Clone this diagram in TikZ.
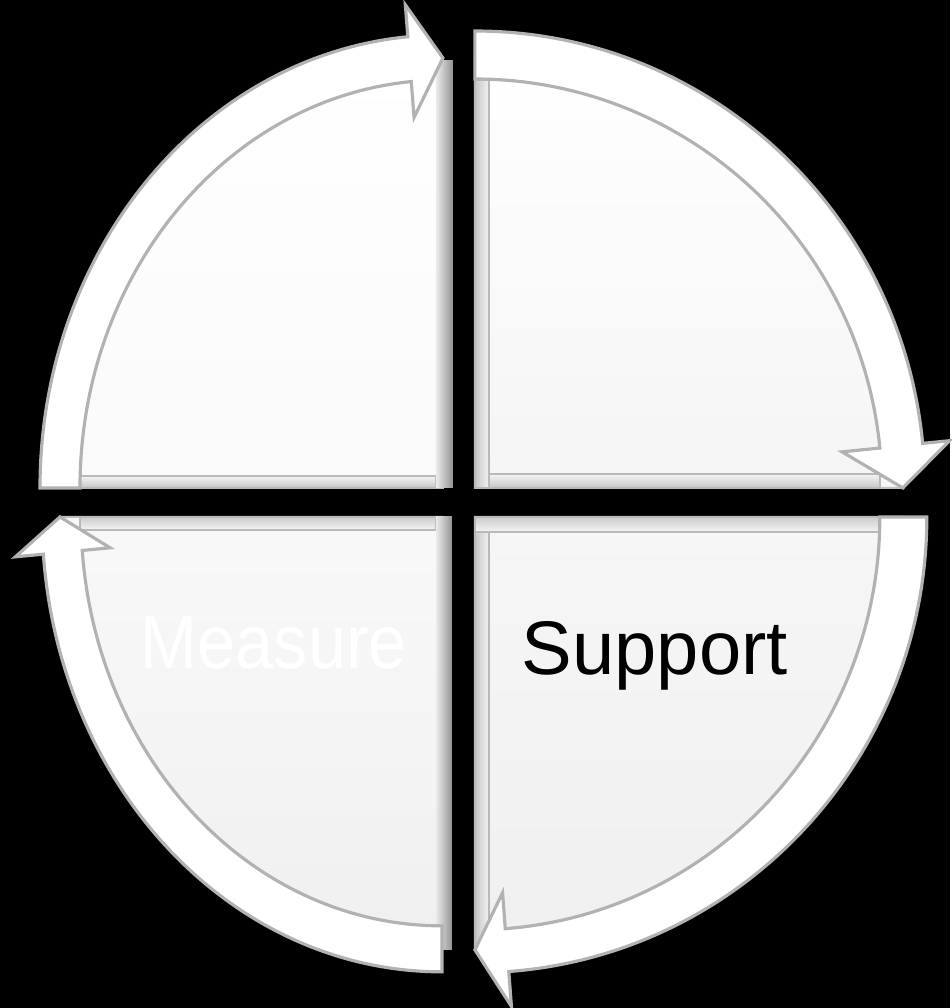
\documentclass[tikz,border=0pt]{standalone}
\usepackage{fontspec}
\setmainfont{Liberation Sans}
\usetikzlibrary{calc}

\begin{document}
\begin{tikzpicture}[x=0.01cm,y=-0.01cm,
  face/.style={draw=gray!50,line width=0.6pt},
  band/.style={fill=white,draw=gray!60,line width=0.9pt,line join=miter},
  rimh/.style={top color=gray!8,bottom color=gray!45,draw=gray!55,line width=0.5pt},
  rimv/.style={left color=gray!45,right color=gray!10,draw=gray!55,line width=0.5pt},
  side/.style={left color=gray!15,right color=gray!85},
  label/.style={font=\fontsize{21.6}{26}\selectfont,inner sep=0pt}]
  \fill[black] (0,0) rectangle (950,1008);
  \coordinate (ctl) at (443,488);
  \coordinate (ctr) at (475,488);
  \coordinate (cbl) at (442,517);
  \coordinate (cbr) at (475,517);

  % quadrant faces
  \filldraw[face,top color=white,bottom color=gray!4] (ctl) -- ($(ctl)+(180:383 and 430)$)
    arc[start angle=180,end angle=270,x radius=383,y radius=430] -- cycle;
  \filldraw[face,top color=white,bottom color=gray!8] (ctr) -- ($(ctr)+(270:428 and 433)$)
    arc[start angle=270,end angle=360,x radius=428,y radius=433] -- cycle;
  \filldraw[face,top color=gray!5,bottom color=gray!12] (cbl) -- ($(cbl)+(90:382 and 432)$)
    arc[start angle=90,end angle=180,x radius=382,y radius=432] -- cycle;
  \filldraw[face,top color=gray!7,bottom color=gray!12] (cbr) -- ($(cbr)+(0:428 and 433)$)
    arc[start angle=0,end angle=90,x radius=428,y radius=433] -- cycle;

  % bevelled edges
  \filldraw[rimh] (80,476) rectangle (436,488);
  \filldraw[rimv] (475,80) rectangle (489,488);
  \filldraw[rimh] (489,474) rectangle (880,488);
  \filldraw[rimh,top color=gray!40,bottom color=gray!8] (80,517) rectangle (436,530);
  \filldraw[rimh,top color=gray!40,bottom color=gray!8] (475,517) rectangle (880,532);
  \filldraw[rimv] (475,532) rectangle (489,945);
  \fill[side] (436,60) rectangle (453,488);
  \fill[side] (436,517) rectangle (452,950);

  % cycle arrows
  \draw[band] ($(ctl)+(180:403 and 453)$) arc[start angle=180,end angle=265,x radius=403,y radius=453]
    -- ($(ctl)+(265:431 and 485)$) -- ($(ctl)+(270:383 and 430)$) -- ($(ctl)+(265:331 and 372)$)
    -- ($(ctl)+(265:363 and 408)$) arc[start angle=265,end angle=180,x radius=363,y radius=408] -- cycle;
  \draw[band] ($(ctr)+(270:450 and 457)$) arc[start angle=270,end angle=354.4,x radius=450,y radius=457]
    -- ($(ctr)+(354.4:477 and 484)$) -- ($(ctr)+(360:428 and 433)$) -- ($(ctr)+(354.4:369 and 370)$)
    -- ($(ctr)+(354.4:407 and 409)$) arc[start angle=354.4,end angle=270,x radius=407,y radius=409] -- cycle;
  \draw[band] ($(cbl)+(90:400 and 455)$) arc[start angle=90,end angle=175.3,x radius=400,y radius=455]
    -- ($(cbl)+(175.3:428 and 487)$) -- ($(cbl)+(180:382 and 432)$) -- ($(cbl)+(175.3:333 and 377)$)
    -- ($(cbl)+(175.3:361 and 409)$) arc[start angle=175.3,end angle=90,x radius=361,y radius=409] -- cycle;
  \draw[band] ($(cbr)+(0:452 and 456)$) arc[start angle=0,end angle=85.7,x radius=452,y radius=456]
    -- ($(cbr)+(85.7:487 and 491)$) -- ($(cbr)+(90:428 and 433)$) -- ($(cbr)+(85.7:369 and 377)$)
    -- ($(cbr)+(85.7:405 and 413)$) arc[start angle=85.7,end angle=0,x radius=405,y radius=413] -- cycle;

  \node[label,white] (measure) at (274,643) {\scalebox{0.9}[1]{Measure}};
  \node[label] (support) at (655,656) {Support};
\end{tikzpicture}
\end{document}
